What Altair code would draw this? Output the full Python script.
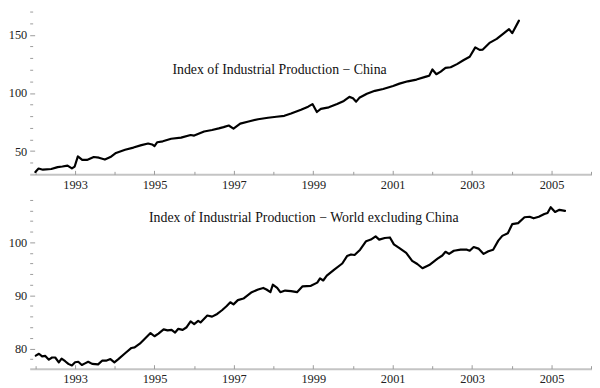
import altair as alt
import pandas as pd

# ---- data ----
china_year = [1992.00, 1992.08, 1992.19, 1992.40, 1992.56, 1992.68, 1992.81, 1992.92, 1992.99,
              1993.07, 1993.18, 1993.30, 1993.47, 1993.60, 1993.75, 1993.89, 1994.03, 1994.26,
              1994.47, 1994.67, 1994.84, 1994.94, 1995.00, 1995.07, 1995.21, 1995.42, 1995.67,
              1995.91, 1996.00, 1996.25, 1996.45, 1996.62, 1996.74, 1996.87, 1996.99, 1997.16,
              1997.37, 1997.61, 1997.86, 1998.07, 1998.27, 1998.44, 1998.69, 1998.87, 1998.98,
              1999.09, 1999.19, 1999.39, 1999.60, 1999.77, 1999.91, 2000.00, 2000.08, 2000.16,
              2000.35, 2000.55, 2000.76, 2001.01, 2001.17, 2001.38, 2001.60, 2001.84, 2001.92,
              2002.00, 2002.10, 2002.21, 2002.33, 2002.46, 2002.62, 2002.79, 2002.94, 2003.08,
              2003.19, 2003.27, 2003.45, 2003.62, 2003.78, 2003.93, 2004.01, 2004.18]
china_value = [32.1, 35.0, 34.0, 34.6, 36.2, 36.7, 37.5, 35.1, 36.7,
               45.4, 42.4, 42.4, 44.9, 44.3, 42.7, 44.9, 48.4, 51.1,
               53.0, 55.1, 56.5, 55.7, 54.3, 57.6, 58.4, 60.6, 61.6,
               63.8, 63.3, 66.8, 68.1, 69.5, 70.6, 72.0, 69.3, 73.6,
               75.4, 77.4, 78.7, 79.5, 80.3, 82.3, 85.5, 88.2, 90.4,
               83.6, 86.3, 87.6, 90.4, 93.1, 96.6, 95.5, 92.5, 95.8,
               99.3, 101.8, 103.4, 106.0, 108.0, 110.0, 111.5, 114.0, 114.8,
               120.2, 116.1, 118.3, 121.5, 122.1, 124.8, 128.3, 131.1, 139.2,
               137.0, 137.3, 143.3, 146.5, 150.8, 154.9, 151.4, 162.2]

world_year = [1992.01, 1992.09, 1992.17, 1992.25, 1992.34, 1992.42, 1992.50, 1992.59, 1992.66,
              1992.75, 1992.83, 1992.92, 1993.00, 1993.08, 1993.17, 1993.25, 1993.33, 1993.43,
              1993.58, 1993.68, 1993.78, 1993.89, 1993.99, 1994.09, 1994.26, 1994.42, 1994.50,
              1994.63, 1994.75, 1994.90, 1995.00, 1995.10, 1995.23, 1995.33, 1995.43, 1995.52,
              1995.60, 1995.71, 1995.81, 1995.91, 1996.00, 1996.10, 1996.16, 1996.33, 1996.45,
              1996.58, 1996.70, 1996.82, 1996.91, 1996.99, 1997.10, 1997.24, 1997.45, 1997.61,
              1997.74, 1997.82, 1997.92, 1997.98, 1998.09, 1998.17, 1998.29, 1998.44, 1998.59,
              1998.73, 1998.94, 1999.10, 1999.17, 1999.25, 1999.34, 1999.52, 1999.73, 1999.85,
              1999.95, 2000.04, 2000.18, 2000.33, 2000.45, 2000.57, 2000.66, 2000.80, 2000.93,
              2001.03, 2001.17, 2001.34, 2001.49, 2001.62, 2001.75, 2001.92, 2002.13, 2002.25,
              2002.33, 2002.42, 2002.54, 2002.71, 2002.87, 2002.94, 2003.04, 2003.16, 2003.29,
              2003.41, 2003.53, 2003.66, 2003.76, 2003.90, 2004.01, 2004.16, 2004.32, 2004.45,
              2004.55, 2004.68, 2004.82, 2004.90, 2004.98, 2005.09, 2005.20, 2005.34]
world_value = [78.65, 79.0, 78.5, 78.6, 77.9, 78.3, 78.3, 77.4, 78.1,
               77.6, 77.1, 76.8, 77.4, 77.5, 76.9, 77.2, 77.5, 77.1,
               77.0, 77.7, 77.7, 78.0, 77.4, 78.0, 79.1, 80.1, 80.2,
               80.9, 81.8, 82.9, 82.3, 82.8, 83.6, 83.4, 83.5, 83.0,
               83.7, 83.5, 84.0, 85.1, 84.6, 85.2, 84.9, 86.2, 86.0,
               86.5, 87.2, 88.0, 88.7, 88.3, 89.1, 89.4, 90.6, 91.1,
               91.4, 91.1, 90.6, 92.0, 91.4, 90.6, 90.9, 90.8, 90.6,
               91.7, 91.8, 92.4, 93.2, 92.8, 93.7, 94.8, 96.0, 97.4,
               97.7, 97.6, 98.6, 100.2, 100.5, 101.1, 100.5, 100.8, 100.9,
               99.6, 98.9, 98.0, 96.5, 95.9, 95.1, 95.7, 96.9, 97.5,
               98.2, 97.8, 98.4, 98.6, 98.6, 98.4, 99.1, 98.8, 97.8,
               98.3, 98.6, 100.3, 101.2, 101.7, 103.4, 103.6, 104.7, 104.8,
               104.5, 104.8, 105.3, 105.5, 106.6, 105.7, 106.1, 105.9]

major_years = [1993, 1995, 1997, 1999, 2001, 2003, 2005]
minor_years = [1992, 1994, 1996, 1998, 2000, 2002, 2004, 2006]

china_major = [50, 100, 150]
china_minor = [40, 60, 70, 80, 90, 110, 120, 130, 140, 160, 170]
world_major = [80, 90, 100]
world_minor = [78, 82, 84, 86, 88, 92, 94, 96, 98, 102, 104, 106, 108]

china_title = "Index of Industrial Production \u2212 China"
world_title = "Index of Industrial Production \u2212 World excluding China"
china_title_pos = [1998.15, 120.0]
world_title_pos = [1998.76, 104.5]

X_DOMAIN = [1991.857, 2006.02]
FONT = "Liberation Serif"
TICK_COLOR = "#9a9a9a"
DOMAIN_COLOR = "#c4c4c4"
LABEL_COLOR = "#222222"
WIDTH = 570


def panel(years, values, ydom, ymajor, yminor, tpos, ttext, h):
    df = pd.DataFrame({"year": years, "value": values})
    xs = alt.Scale(domain=X_DOMAIN, nice=False, zero=False)
    ys = alt.Scale(domain=ydom, nice=False, zero=False)
    base = alt.Chart(df)
    line = base.mark_line(color="black", strokeWidth=2.2, strokeJoin="round", strokeCap="round").encode(
        x=alt.X("year:Q", scale=xs, axis=alt.Axis(
            orient="bottom", values=major_years, format="d", ticks=False, tickSize=0,
            labelPadding=4, domainColor=DOMAIN_COLOR, domainWidth=2, grid=False, title=None,
            labelFont=FONT, labelFontSize=12.5, labelColor=LABEL_COLOR)),
        y=alt.Y("value:Q", scale=ys, axis=alt.Axis(
            orient="left", values=ymajor, format="d", tickSize=5, offset=-5, tickColor=TICK_COLOR,
            tickWidth=1, domain=False, grid=False, title=None, labelPadding=3,
            labelFont=FONT, labelFontSize=12.5, labelColor=LABEL_COLOR)),
    )
    ticks_a = base.mark_line(strokeOpacity=0).encode(
        x=alt.X("year:Q", scale=xs, axis=alt.Axis(
            orient="bottom", values=major_years, labels=False, domain=False, tickSize=4,
            offset=-4, tickColor=TICK_COLOR, tickWidth=1, grid=False, title=None)),
        y=alt.Y("value:Q", scale=ys, axis=alt.Axis(
            orient="left", values=yminor, labels=False, domain=False, tickSize=3,
            offset=-3, tickColor=TICK_COLOR, tickWidth=1, grid=False, title=None)),
    )
    ticks_b = base.mark_line(strokeOpacity=0).encode(
        x=alt.X("year:Q", scale=xs, axis=alt.Axis(
            orient="bottom", values=minor_years, labels=False, domain=False, tickSize=3,
            offset=-3, tickColor=TICK_COLOR, tickWidth=1, grid=False, title=None)),
        y=alt.Y("value:Q", scale=ys, axis=None),
    )
    tdf = pd.DataFrame({"x": [tpos[0]], "y": [tpos[1]], "t": [ttext]})
    label = alt.Chart(tdf).mark_text(font=FONT, fontSize=14, color="#111111",
                                     align="center", baseline="middle").encode(
        x=alt.X("x:Q", scale=xs, axis=None),
        y=alt.Y("y:Q", scale=ys, axis=None),
        text="t:N",
    )
    return alt.layer(line, ticks_a, ticks_b, label).resolve_axis(
        x="independent", y="independent").properties(width=WIDTH, height=h)


top = panel(china_year, china_value, [30, 170], china_major, china_minor,
            china_title_pos, china_title, 165)
bottom = panel(world_year, world_value, [76.2, 108.7], world_major, world_minor,
               world_title_pos, world_title, 175)

chart = (alt.vconcat(top, bottom, spacing=5)
         .properties(padding=0)
         .configure_view(stroke=None)
         .configure_axis(labelFont=FONT, labelColor=LABEL_COLOR)
         .configure_text(font=FONT))
chart.save("out.html", embed_options={"renderer": "svg", "actions": False})
